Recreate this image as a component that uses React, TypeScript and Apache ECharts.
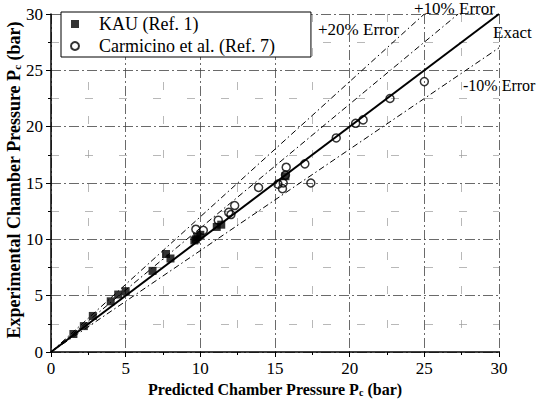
import React, { useEffect, useRef } from "react";
import * as echarts from "echarts";

const kauData: [number, number][] = [
  [1.5, 1.6], [2.2, 2.3], [2.8, 3.2], [4.0, 4.5], [4.5, 5.1], [5.0, 5.4],
  [6.8, 7.2], [7.7, 8.7], [8.0, 8.3], [9.6, 9.9], [9.8, 10.2], [10.0, 10.4],
  [9.7, 10.0], [11.1, 11.1], [11.4, 11.3], [15.7, 15.6],
];

const carmicinoData: [number, number][] = [
  [9.7, 10.9], [10.2, 10.8], [11.2, 11.7], [11.9, 12.4], [12.05, 12.2],
  [12.3, 13.0], [13.9, 14.6], [15.2, 14.9], [15.5, 14.5], [15.55, 15.0],
  [15.75, 16.4], [15.7, 15.7], [17.0, 16.7], [17.4, 15.0], [19.1, 19.0],
  [20.4, 20.3], [20.9, 20.6], [22.7, 22.5], [25.0, 24.0],
];

const exactLine: [number, number][] = [[0, 0], [30, 30]];
const plus20Line: [number, number][] = [[0, 0], [25, 30]];
const plus10Line: [number, number][] = [[0, 0], [27.27, 30]];
const minus10Line: [number, number][] = [[0, 0], [30, 27]];

const lineLabels = ["+20% Error", "+10% Error", "Exact", "-10% Error"];
const yTitle = "Experimental Chamber Pressure P{sub|c} (bar)";
const xTitle = "Predicted Chamber Pressure P{sub|c} (bar)";

const FONT = "Liberation Serif";
const SQUARE = "path://M0,0L10,0L10,10L0,10Z";

export default function App() {
  const ref = useRef<HTMLDivElement>(null);
  useEffect(() => {
    if (!ref.current) return;
    const chart = echarts.init(ref.current, undefined, { renderer: "svg" });
    const subRich = (size: number) => ({
      sub: {
        fontFamily: FONT,
        fontSize: Math.round(size * 0.62),
        fontWeight: "bold" as const,
        color: "#000",
        padding: [6, 0, 0, 0],
      },
    });
    const axisCommon = {
      type: "value" as const,
      min: 0,
      max: 30,
      interval: 5,
      axisLine: { show: true, onZero: false, lineStyle: { color: "#000", width: 1.5 } },
      axisTick: { show: true, length: 5, lineStyle: { color: "#000", width: 1 } },
      minorTick: { show: true, splitNumber: 2, length: 3, lineStyle: { color: "#000" } },
      axisLabel: { color: "#000", fontFamily: FONT, fontSize: 17 },
      splitLine: {
        show: true,
        lineStyle: { color: "#444", width: 0.8, type: [10, 3, 2, 3] as any },
      },
      minorSplitLine: {
        show: true,
        lineStyle: { color: "#999", width: 0.7, type: [8, 26] as any },
      },
      nameLocation: "middle" as const,
    };
    const dashDot = { color: "#000", width: 1, type: [6, 3, 1.5, 3] as any };
    const labelText = (text: string, left: number, top: number, size: number) => ({
      type: "text",
      left,
      top,
      style: { text, fontFamily: FONT, fontSize: size, fill: "#000" },
    });
    chart.setOption({
      animation: false,
      textStyle: { fontFamily: FONT },
      grid: { left: 51, right: 38, top: 14, bottom: 53, outerBoundsMode: "none", containLabel: false },
      xAxis: {
        ...axisCommon,
        name: xTitle,
        nameGap: 22,
        nameTextStyle: {
          color: "#000",
          fontFamily: FONT,
          fontSize: 16,
          fontWeight: "bold",
          rich: subRich(16),
        },
      },
      yAxis: {
        ...axisCommon,
      },
      legend: {
        orient: "vertical",
        left: 61,
        top: 12,
        padding: [3, 36, 2, 9],
        itemGap: 4,
        itemWidth: 38,
        itemHeight: 8,
        backgroundColor: "#fff",
        borderColor: "#000",
        borderWidth: 1,
        textStyle: { color: "#000", fontFamily: FONT, fontSize: 18 },
        data: [
          { name: "KAU (Ref. 1)", icon: SQUARE },
          { name: "Carmicino et al. (Ref. 7)", icon: "circle" },
        ],
      },
      graphic: [
        labelText(lineLabels[0], 318, 21, 17),
        labelText(lineLabels[1], 414, 0, 17),
        labelText(lineLabels[2], 493, 24, 17),
        labelText(lineLabels[3], 463, 77, 16),
        {
          type: "text",
          x: 14,
          y: 180,
          rotation: Math.PI / 2,
          style: {
            text: yTitle,
            fontFamily: FONT,
            fontSize: 18,
            fontWeight: "bold",
            fill: "#000",
            align: "center",
            verticalAlign: "middle",
            rich: subRich(18),
          },
        },
      ],
      series: [
        {
          type: "line", data: plus20Line, symbol: "none", silent: true,
          lineStyle: dashDot, z: 2,
        },
        {
          type: "line", data: plus10Line, symbol: "none", silent: true,
          lineStyle: dashDot, z: 2,
        },
        {
          type: "line", data: minus10Line, symbol: "none", silent: true,
          lineStyle: dashDot, z: 2,
        },
        {
          type: "line", data: exactLine, symbol: "none", silent: true,
          lineStyle: { color: "#000", width: 2 }, z: 2,
        },
        {
          name: "Carmicino et al. (Ref. 7)",
          type: "scatter",
          data: carmicinoData,
          symbol: "circle",
          symbolSize: 8,
          itemStyle: { color: "transparent", borderColor: "#000", borderWidth: 1.5 },
          z: 3,
        },
        {
          name: "KAU (Ref. 1)",
          type: "scatter",
          data: kauData,
          symbol: SQUARE,
          symbolSize: 8,
          itemStyle: { color: "#000" },
          z: 4,
        },
      ],
    });
    return () => chart.dispose();
  }, []);
  return <div ref={ref} style={{ width: 537, height: 405, position: "absolute", left: 0, top: 0, background: "#fff" }} />;
}
